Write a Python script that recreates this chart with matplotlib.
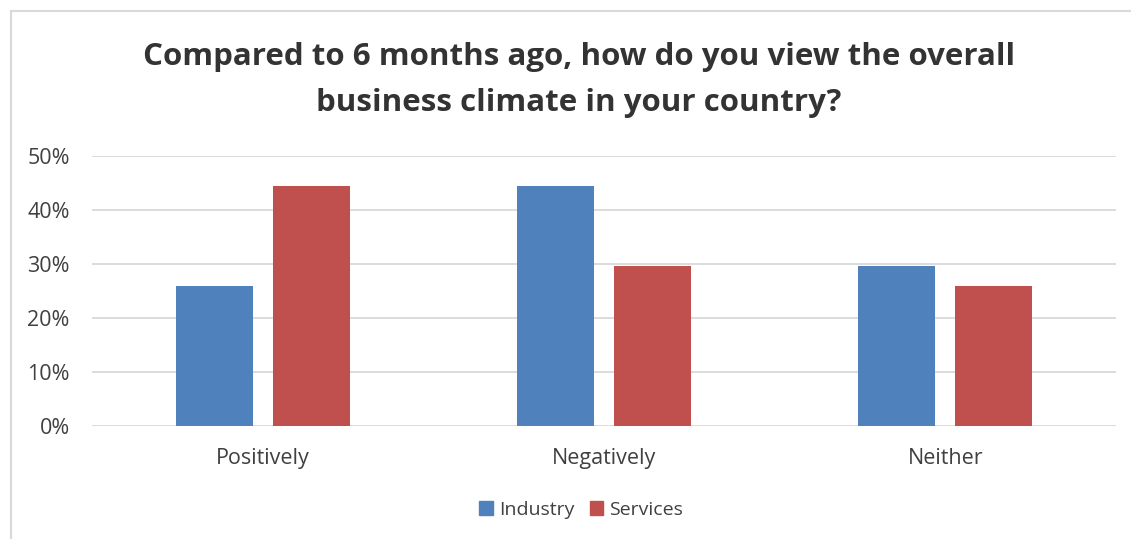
import matplotlib.pyplot as plt
import numpy as np
from matplotlib.lines import Line2D
from matplotlib.patches import Patch

categories = ["Positively", "Negatively", "Neither"]
industry = [25.9, 44.4, 29.6]
services = [44.4, 29.6, 25.9]
series_names = ["Industry", "Services"]
colors = ["#4F81BD", "#C0504D"]
title = "Compared to 6 months ago, how do you view the overall\nbusiness climate in your country?"

plt.rcParams["font.family"] = ["Open Sans", "DejaVu Sans"]

fig = plt.figure(figsize=(11.31, 5.39), dpi=100)
ax = fig.add_axes([92 / 1131, 1 - 426 / 539, 1024 / 1131, 270 / 539])

x = np.arange(len(categories))
width = 0.226
offset = 0.142
ax.bar(x - offset, industry, width, color=colors[0], zorder=3)
ax.bar(x + offset, services, width, color=colors[1], zorder=3)

ax.set_xlim(-0.5, len(categories) - 0.5)
ax.set_ylim(0, 50)
ax.set_yticks(range(0, 51, 10))
ax.set_yticklabels([f"{v}%" for v in range(0, 51, 10)])
ax.set_xticks(x)
ax.set_xticklabels(categories)
ax.grid(axis="y", color="#D9D9D9", linewidth=1.3, zorder=0)
for s in ax.spines.values():
    s.set_visible(False)
ax.tick_params(length=0, labelsize=15.5, colors="#404040")
ax.tick_params(axis="y", pad=16)
ax.tick_params(axis="x", pad=16)

fig.text(0.512, 1 - 80 / 539, title, ha="center", va="center", fontsize=22.5,
         fontweight="bold", color="#333333", linespacing=1.72)

# chart frame (left and top edges)
fig.add_artist(Line2D([11 / 1131, 11 / 1131], [0, 1 - 11 / 539], color="#D9D9D9", lw=1.5))
fig.add_artist(Line2D([11 / 1131, 1], [1 - 11 / 539, 1 - 11 / 539], color="#D9D9D9", lw=1.5))

handles = [Patch(color=c, label=n) for c, n in zip(colors, series_names)]
fig.legend(handles=handles, loc="center", bbox_to_anchor=(0.514, 1 - 510 / 539), ncol=2,
           frameon=False, fontsize=14, handlelength=0.7, handleheight=0.7,
           handletextpad=0.3, columnspacing=0.8, labelcolor="#404040")

fig.savefig("out.png", dpi=100)
